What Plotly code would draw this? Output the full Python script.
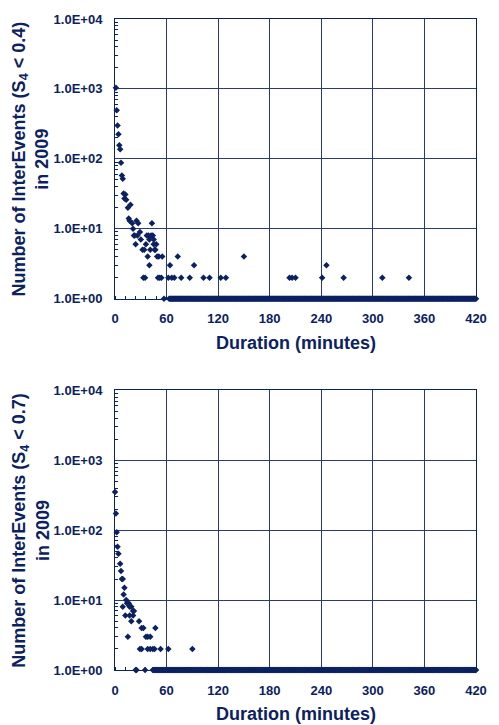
import plotly.graph_objects as go

# ---------------- data ----------------
# Top panel: S4 < 0.4
top_dur = [1, 2, 3, 4, 5, 6, 7, 8, 9, 10, 11, 12, 13, 15, 16, 17, 18, 20, 21, 22,
           23, 24, 25, 26, 27, 29, 30, 32, 33, 34, 35, 36, 37, 38, 39, 40, 40, 41,
           42, 43, 44, 45, 45, 46, 47, 48, 49, 50, 51, 52, 54, 55, 57, 62, 64, 66,
           69, 73, 77, 87, 92, 103, 110, 123, 129, 150, 203, 206, 210, 241, 246,
           266, 311, 342]
top_cnt = [1040, 496, 301, 225, 157, 137, 88, 58, 52, 32, 27, 31, 26, 20, 14, 13, 22, 12, 10, 8,
           8, 6, 13, 8, 12, 9, 7, 5, 2, 5, 2, 6, 8, 4, 8, 3, 7, 5,
           8, 12, 8, 7, 6, 5, 5, 6, 4, 2, 4, 2, 2, 4, 1, 2, 3, 2,
           2, 4, 2, 2, 3, 2, 2, 2, 2, 4, 2, 2, 2, 2, 3,
           2, 2, 2]
# every minute from 63 to 420 shows exactly one event (continuous band at 1.0E+00)
top_ones_dur = list(range(63, 421))
top_ones_cnt = [1] * len(top_ones_dur)

# Bottom panel: S4 < 0.7
bot_dur = [0, 1, 2, 3, 4, 6, 7, 8, 9, 9, 10, 11, 12, 13, 14, 15, 15, 16, 17, 17,
           19, 19, 21, 21, 22, 24, 25, 28, 29, 31, 31, 33, 35, 36, 38, 38, 41, 41,
           44, 46, 47, 53, 62, 90]
bot_cnt = [350, 173, 93, 58, 46, 33, 26, 20, 20, 8, 12, 15, 6, 10, 9, 9, 3, 9, 8, 6,
           8, 5, 7, 6, 7, 1, 1, 5, 2, 2, 4, 4, 1, 3, 3, 2, 3, 2,
           2, 2, 4, 2, 2, 2]
# every minute from 44 to 420 shows exactly one event
bot_ones_dur = list(range(44, 421))
bot_ones_cnt = [1] * len(bot_ones_dur)

x_ticks = [0, 60, 120, 180, 240, 300, 360, 420]
y_ticks = [1, 10, 100, 1000, 10000]
y_tick_text = ["1.0E+00", "1.0E+01", "1.0E+02", "1.0E+03", "1.0E+04"]

titles_y = ["Number of InterEvents (S<sub>4</sub> &lt; 0.4)<br>in 2009",
            "Number of InterEvents (S<sub>4</sub> &lt; 0.7)<br>in 2009"]
title_x = "Duration (minutes)"

# ---------------- styling ----------------
NAVY = "#0B2160"
GRID = "#2A3A78"
FONT = "Liberation Sans, Arial, sans-serif"
W, H = 499, 725
ML, MR, MT, MB = 115, 12, 12, 55

fig = go.Figure()

panels = [
    (top_dur + top_ones_dur, top_cnt + top_ones_cnt, "x", "y"),
    (bot_dur + bot_ones_dur, bot_cnt + bot_ones_cnt, "x2", "y2"),
]
for xs, ys, xa, ya in panels:
    fig.add_trace(go.Scatter(
        x=xs, y=ys, mode="markers", xaxis=xa, yaxis=ya,
        marker=dict(symbol="diamond", size=5, color=NAVY, line=dict(width=0)),
        cliponaxis=False, showlegend=False, hoverinfo="x+y"))

minor_y = [m * 10 ** d for d in range(4) for m in range(2, 10)]

x_common = dict(
    range=[0, 420], tickvals=x_ticks, showgrid=True, gridcolor=GRID, gridwidth=1,
    showline=True, mirror=True, linecolor=NAVY, linewidth=1, zeroline=False,
    ticks="", tickfont=dict(family=FONT, size=13, color=NAVY, weight="bold"),
    ticklabelstandoff=8,
    minor=dict(dtick=12, ticks="inside", ticklen=3, tickcolor=NAVY, showgrid=False),
)
y_common = dict(
    type="log", range=[0, 4], tickvals=y_ticks, ticktext=y_tick_text,
    showgrid=True, gridcolor=GRID, gridwidth=1,
    showline=True, mirror=True, linecolor=NAVY, linewidth=1, zeroline=False,
    ticks="", tickfont=dict(family=FONT, size=13, color=NAVY, weight="bold"),
    ticklabelstandoff=9,
    minor=dict(tickvals=minor_y, ticks="inside", ticklen=3, tickcolor=NAVY, showgrid=False),
)

plot_h = H - MT - MB
def fy(px):  # pixel row -> paper fraction
    return (H - MB - px) / plot_h

top_dom = [fy(294.7), 1.0]
bot_dom = [0.0, fy(387.3)]

fig.update_layout(
    width=W, height=H, margin=dict(l=ML, r=MR, t=MT, b=MB),
    paper_bgcolor="white", plot_bgcolor="white",
    xaxis=dict(x_common, domain=[0, 1], anchor="y"),
    yaxis=dict(y_common, domain=top_dom, anchor="x"),
    xaxis2=dict(x_common, domain=[0, 1], anchor="y2"),
    yaxis2=dict(y_common, domain=bot_dom, anchor="x2"),
)

plot_w = W - ML - MR
def fx(px):
    return (px - ML) / plot_w

ann_font = dict(family=FONT, size=18, color=NAVY, weight="bold")
for title, (d0, d1), xt_y in [(titles_y[0], top_dom, 339), (titles_y[1], bot_dom, 714)]:
    fig.add_annotation(text=title, xref="paper", yref="paper",
                       x=fx(28), y=(d0 + d1) / 2, xanchor="center", yanchor="middle",
                       textangle=-90, showarrow=False, font=ann_font)
    fig.add_annotation(text=title_x, xref="paper", yref="paper",
                       x=0.5, y=fy(xt_y), xanchor="center", yanchor="middle",
                       showarrow=False, font=ann_font)

fig.write_html(
    "out.html",
    config={"displayModeBar": False},
    post_script="document.body.style.margin='0';document.body.style.overflow='hidden';",
)
